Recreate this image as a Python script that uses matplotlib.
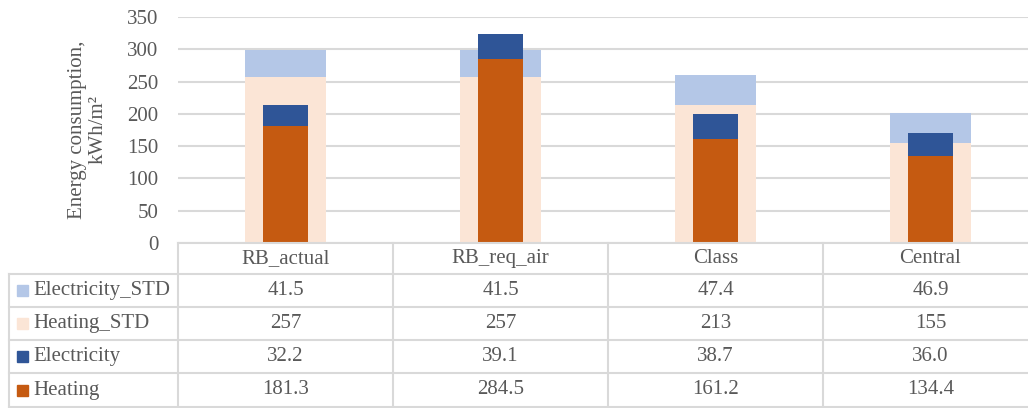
import numpy as np
import matplotlib.pyplot as plt
from matplotlib.patches import Rectangle

categories = ['RB_actual', 'RB_req_air', 'Class', 'Central']
heating = [181.3, 284.5, 161.2, 134.4]
electricity = [32.2, 39.1, 38.7, 36.0]
heating_std = [257, 257, 213, 155]
electricity_std = [41.5, 41.5, 47.4, 46.9]
heating_std_txt = ['257', '257', '213', '155']

c_heat = '#C55A11'
c_elec = '#2F5597'
c_heat_std = '#FBE5D6'
c_elec_std = '#B4C7E7'
grey = '#D9D9D9'
txt = '#595959'

plt.rcParams['font.family'] = ['Liberation Serif', 'DejaVu Serif']
fs = 15

W, H = 1028, 408
fig = plt.figure(figsize=(W / 100, H / 100), dpi=100)

# axes box in pixels (right edge runs past the figure)
x0, x1 = 178, 1038
y_top, y_zero = 17, 243
ax = fig.add_axes([x0 / W, 1 - y_zero / H, (x1 - x0) / W, (y_zero - y_top) / H])

x = np.arange(len(categories))
ax.bar(x, heating_std, width=0.375, color=c_heat_std, zorder=2)
ax.bar(x, electricity_std, width=0.375, bottom=heating_std, color=c_elec_std, zorder=2)
ax.bar(x, heating, width=0.21, color=c_heat, zorder=3)
ax.bar(x, electricity, width=0.21, bottom=heating, color=c_elec, zorder=3)

ax.set_xlim(-0.5, len(categories) - 0.5)
ax.set_ylim(0, 350)
ax.set_yticks(range(0, 351, 50))
ax.yaxis.grid(True, color=grey, lw=1.5, zorder=0)
ax.set_xticks([])
ax.tick_params(axis='y', length=0, labelsize=fs, labelcolor=txt, pad=14)
for s in ax.spines.values():
    s.set_visible(False)
ax.set_ylabel('Energy consumption,\nkWh/m²', fontsize=fs, color=txt,
              labelpad=14, linespacing=1.15)

# data table under the axis
def fx(px):
    return px / W

def fy(py):
    return 1 - py / H

col_w = (x1 - x0) / len(categories)
rows = [('Electricity_STD', c_elec_std, [f'{v:.1f}' for v in electricity_std]),
        ('Heating_STD', c_heat_std, heating_std_txt),
        ('Electricity', c_elec, [f'{v:.1f}' for v in electricity]),
        ('Heating', c_heat, [f'{v:.1f}' for v in heating])]
row_y = [243, 274, 307, 340, 373, 407]
left = 9

lk = dict(color=grey, lw=1.5, transform=fig.transFigure)
fig.add_artist(plt.Line2D([fx(x0), fx(W + 20)], [fy(243), fy(243)], **lk))
for yy in row_y[1:]:
    fig.add_artist(plt.Line2D([fx(left), fx(W + 20)], [fy(yy), fy(yy)], **lk))
fig.add_artist(plt.Line2D([fx(left), fx(left)], [fy(274), fy(407)], **lk))
for i in range(len(categories)):
    xx = x0 + i * col_w
    fig.add_artist(plt.Line2D([fx(xx), fx(xx)], [fy(243), fy(407)], **lk))

for i, c in enumerate(categories):
    fig.text(fx(x0 + (i + 0.5) * col_w), fy((243 + 274) / 2), c, ha='center',
             va='center', fontsize=fs, color=txt)

for r, (name, col, vals) in enumerate(rows):
    ymid = (row_y[r + 1] + row_y[r + 2]) / 2
    fig.add_artist(Rectangle((fx(17), fy(ymid + 5.5)), 11 / W, 11 / H,
                             transform=fig.transFigure, color=col))
    fig.text(fx(33), fy(ymid), name, ha='left', va='center', fontsize=fs, color=txt)
    for i, v in enumerate(vals):
        fig.text(fx(x0 + (i + 0.5) * col_w), fy(ymid), v, ha='center',
                 va='center', fontsize=fs, color=txt)

fig.savefig('out.png', dpi=100)
